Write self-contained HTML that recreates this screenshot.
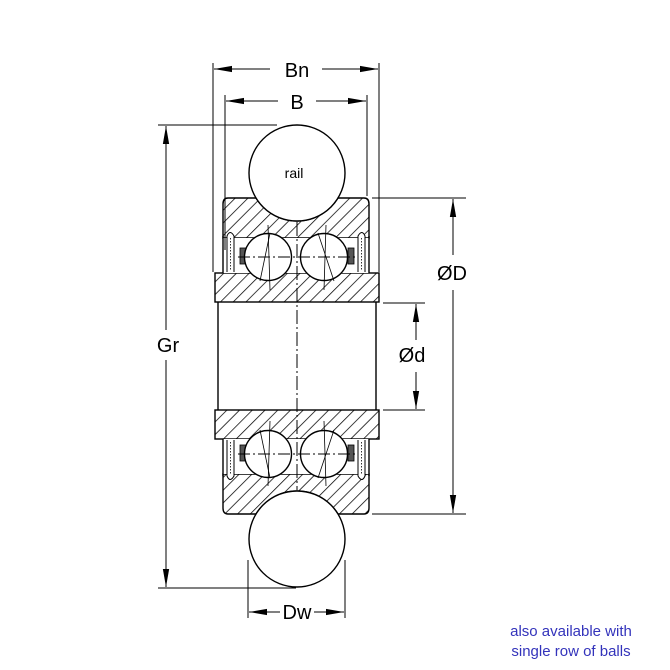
<!DOCTYPE html>
<html><head><meta charset="utf-8"><style>
html,body{margin:0;padding:0;background:#fff}
svg{display:block}
text{font-family:"Liberation Sans",Arial,sans-serif}
</style></head><body>
<svg width="670" height="670" viewBox="0 0 670 670" xmlns="http://www.w3.org/2000/svg">
<defs>
<pattern id="h" patternUnits="userSpaceOnUse" width="9" height="9" patternTransform="rotate(45)">
<rect width="9" height="9" fill="#fff"/><line x1="0" y1="0" x2="0" y2="9" stroke="#000" stroke-width="1.5"/>
</pattern>
<marker id="a" viewBox="0 0 20 8" refX="20" refY="4" markerWidth="18" markerHeight="8" markerUnits="userSpaceOnUse" orient="auto-start-reverse">
<path d="M0,0.5 L20,4 L0,7.5 z" fill="#000"/>
</marker>
</defs>
<rect width="670" height="670" fill="#fff"/>
<g stroke="#000" stroke-width="1.4">
<!-- top outer ring -->
<path d="M228,198 L256,198 A48,48 0 0 0 338,198 L364,198 Q369,198 369,204 L369,238 L223,238 L223,204 Q223,198 228,198 z" fill="url(#h)"/>
<!-- bottom outer ring -->
<path d="M228,514 L256,514 A48,48 0 0 1 338,514 L364,514 Q369,514 369,508 L369,474 L223,474 L223,508 Q223,514 228,514 z" fill="url(#h)"/>
<!-- inner rings -->
<rect x="215" y="273" width="164" height="29" fill="url(#h)"/>
<rect x="215" y="410" width="164" height="29" fill="url(#h)"/>
<rect x="223" y="238" width="146" height="35" fill="#fff" stroke="none"/>
<rect x="223" y="439" width="146" height="35" fill="#fff" stroke="none"/>
<line x1="223" y1="236" x2="223" y2="273"/><line x1="369" y1="236" x2="369" y2="273"/>
<line x1="223" y1="439" x2="223" y2="476"/><line x1="369" y1="439" x2="369" y2="476"/>
<!-- bore -->
<line x1="218" y1="302" x2="218" y2="410"/><line x1="376" y1="302" x2="376" y2="410"/>
<!-- seals -->
<g stroke-width="1" fill="#fff">
<path d="M227,272 L227,236 Q230,229 234,236 L234,272"/>
<path d="M365,272 L365,236 Q362,229 358,236 L358,272"/>
<path d="M227,440 L227,476 Q230,483 234,476 L234,440"/>
<path d="M365,440 L365,476 Q362,483 358,476 L358,440"/>
</g>
<g stroke-width="0.8" stroke-dasharray="1.5,1.5">
<line x1="230.5" y1="238" x2="230.5" y2="270"/><line x1="361.5" y1="238" x2="361.5" y2="270"/>
<line x1="230.5" y1="442" x2="230.5" y2="474"/><line x1="361.5" y1="442" x2="361.5" y2="474"/>
</g>
<rect x="240" y="248" width="6" height="16" fill="#555" stroke-width="0.8"/>
<rect x="348" y="248" width="6" height="16" fill="#555" stroke-width="0.8"/>
<rect x="240" y="445" width="6" height="16" fill="#555" stroke-width="0.8"/>
<rect x="348" y="445" width="6" height="16" fill="#555" stroke-width="0.8"/>
<!-- balls -->
<circle cx="268" cy="257" r="23.5" fill="#fff"/>
<circle cx="324" cy="257" r="23.5" fill="#fff"/>
<circle cx="268" cy="454" r="23.5" fill="#fff"/>
<circle cx="324" cy="454" r="23.5" fill="#fff"/>
<g stroke-width="0.8">
<line x1="270" y1="233" x2="260" y2="281"/><line x1="268" y1="225" x2="270" y2="290"/>
<line x1="318" y1="233" x2="334" y2="281"/><line x1="326" y1="225" x2="324" y2="290"/>
<line x1="270" y1="478" x2="260" y2="430"/><line x1="268" y1="486" x2="270" y2="421"/>
<line x1="318" y1="478" x2="334" y2="430"/><line x1="326" y1="486" x2="324" y2="421"/>
</g>
<line x1="238" y1="257" x2="356" y2="257" stroke-dasharray="12,3,2,3" stroke-width="1"/>
<line x1="238" y1="454" x2="356" y2="454" stroke-dasharray="12,3,2,3" stroke-width="1"/>
<!-- rails -->
<circle cx="297" cy="173" r="48" fill="#fff"/>
<circle cx="297" cy="539" r="48" fill="#fff"/>
<!-- centerline -->
<line x1="297" y1="222" x2="297" y2="490" stroke-dasharray="14,3,2,3" stroke-width="1"/>
</g>
<g stroke="#000" stroke-width="1" fill="none">
<line x1="213" y1="63" x2="213" y2="272"/><line x1="379" y1="63" x2="379" y2="272"/>
<line x1="270" y1="69" x2="214" y2="69" marker-end="url(#a)"/><line x1="322" y1="69" x2="378" y2="69" marker-end="url(#a)"/>
<line x1="225" y1="95" x2="225" y2="250"/><line x1="367" y1="95" x2="367" y2="196"/>
<line x1="278" y1="101" x2="226" y2="101" marker-end="url(#a)"/><line x1="316" y1="101" x2="366" y2="101" marker-end="url(#a)"/>
<line x1="158" y1="125" x2="277" y2="125"/><line x1="158" y1="588" x2="296" y2="588"/>
<line x1="166" y1="330" x2="166" y2="126" marker-end="url(#a)"/><line x1="166" y1="360" x2="166" y2="587" marker-end="url(#a)"/>
<line x1="372" y1="198" x2="466" y2="198"/><line x1="372" y1="514" x2="466" y2="514"/>
<line x1="453" y1="255" x2="453" y2="199" marker-end="url(#a)"/><line x1="453" y1="290" x2="453" y2="513" marker-end="url(#a)"/>
<line x1="383" y1="303" x2="425" y2="303"/><line x1="383" y1="410" x2="425" y2="410"/>
<line x1="416" y1="340" x2="416" y2="304" marker-end="url(#a)"/><line x1="416" y1="372" x2="416" y2="409" marker-end="url(#a)"/>
<line x1="248" y1="560" x2="248" y2="618"/><line x1="345" y1="560" x2="345" y2="618"/>
<line x1="280" y1="612" x2="249" y2="612" marker-end="url(#a)"/><line x1="314" y1="612" x2="344" y2="612" marker-end="url(#a)"/>
</g>
<g fill="#000" font-size="20" text-anchor="middle">
<text x="297" y="77">Bn</text>
<text x="297" y="109">B</text>
<text x="168" y="352">Gr</text>
<text x="452" y="280">ØD</text>
<text x="412" y="362">Ød</text>
<text x="297" y="619">Dw</text>
<text x="294" y="178" font-size="14">rail</text>
</g>
<g fill="#3333bb" font-size="15" text-anchor="middle">
<text x="571" y="636">also available with</text>
<text x="571" y="656">single row of balls</text>
</g>
</svg>
</body></html>
